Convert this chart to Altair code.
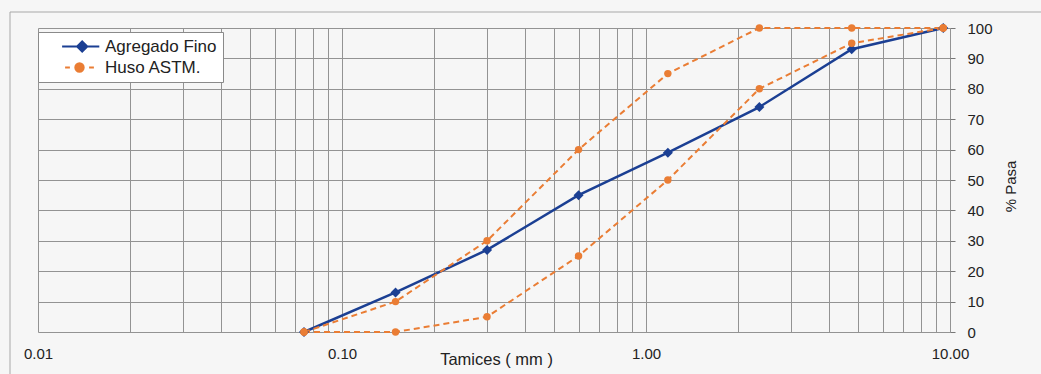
import altair as alt
import pandas as pd

# ---- data ----
tamices = [0.075, 0.15, 0.3, 0.6, 1.18, 2.36, 4.75, 9.5]
agregado_fino = [0, 13, 27, 45, 59, 74, 93, 100]
huso_inf = [0, 0, 5, 25, 50, 80, 95, 100]
huso_sup = [0, 10, 30, 60, 85, 100, 100, 100]

x_grid = [0.01, 0.02, 0.03, 0.04, 0.05, 0.06, 0.07, 0.08, 0.09,
          0.1, 0.2, 0.3, 0.4, 0.5, 0.6, 0.7, 0.8, 0.9,
          1, 2, 3, 4, 5, 6, 7, 8, 9, 10]
y_ticks = [0, 10, 20, 30, 40, 50, 60, 70, 80, 90, 100]

series_names = ["Agregado Fino", "Huso ASTM."]

rows = []
for s, p in zip(tamices, agregado_fino):
    rows.append({"tamiz": s, "pasa": p, "grupo": "Agregado Fino", "curva": "fino"})
for s, p in zip(tamices, huso_inf):
    rows.append({"tamiz": s, "pasa": p, "grupo": "Huso ASTM.", "curva": "inf"})
for s, p in zip(tamices, huso_sup):
    rows.append({"tamiz": s, "pasa": p, "grupo": "Huso ASTM.", "curva": "sup"})
df = pd.DataFrame(rows)

BLUE = "#1b3f93"
ORANGE = "#ea7d34"
FONT = "Liberation Sans"

x_enc = alt.X(
    "tamiz:Q",
    scale=alt.Scale(type="log", domain=[0.01, 10], nice=False),
    axis=alt.Axis(
        values=x_grid,
        labelExpr="abs(log(datum.value)/LN10 - round(log(datum.value)/LN10)) < 0.001 ? format(datum.value, '.2f') : ''",
        labelOverlap=False,
        labelFlush=False,
        ticks=False,
        labelPadding=14,
        title="Tamices ( mm )",
        titleFontSize=16.5,
        titleX=458,
        titleY=27,
        titleAlign="center",
        titleBaseline="middle",
    ),
)
y_enc = alt.Y(
    "pasa:Q",
    scale=alt.Scale(domain=[0, 100], nice=False),
    axis=alt.Axis(
        orient="right",
        values=y_ticks,
        tickSize=5,
        labelPadding=12,
        title="% Pasa",
        titleAngle=270,
        titleX=60,
        titleY=158,
        titleAlign="center",
        titleBaseline="middle",
    ),
)

legend_symbols = [
    "M1.6,0H7.8M4.95,-0.85L5.8,0L4.95,0.85L4.1,0Z",
    "M2.1,0H2.9M6.1,0H6.9M3.8,0A0.7,0.7 0 1,0 5.2,0A0.7,0.7 0 1,0 3.8,0Z",
]

leg = alt.Legend(
    orient="none", legendX=0, legendY=4, title=None,
    padding=6, fillColor="white", strokeColor="#8a8a8a",
    symbolSize=144, symbolStrokeWidth=2, symbolOpacity=1,
    labelOffset=44, labelFontSize=17, labelFont=FONT, labelColor="#222222",
    rowPadding=2,
)

base = alt.Chart(df)

carrier = base.mark_point(opacity=0, filled=True).encode(
    x=x_enc, y=y_enc,
    fill=alt.Fill("grupo:N", scale=alt.Scale(domain=series_names, range=[BLUE, ORANGE]), legend=leg),
    stroke=alt.Stroke("grupo:N", scale=alt.Scale(domain=series_names, range=[BLUE, ORANGE]), legend=leg),
    shape=alt.Shape("grupo:N", scale=alt.Scale(domain=series_names, range=legend_symbols), legend=leg),
)

blue_line = base.transform_filter(alt.datum.grupo == "Agregado Fino").mark_line(
    color=BLUE, strokeWidth=2.5
).encode(x=x_enc, y=y_enc)

orange_lines = base.transform_filter(alt.datum.grupo == "Huso ASTM.").mark_line(
    color=ORANGE, strokeWidth=2, strokeDash=[6, 4]
).encode(x=x_enc, y=y_enc, detail="curva:N")

blue_pts = base.transform_filter(alt.datum.grupo == "Agregado Fino").mark_point(
    filled=True, shape="diamond", size=100, color=BLUE, opacity=1
).encode(x=x_enc, y=y_enc)

orange_pts = base.transform_filter(alt.datum.grupo == "Huso ASTM.").mark_point(
    filled=True, shape="circle", size=55, color=ORANGE, opacity=1
).encode(x=x_enc, y=y_enc, detail="curva:N")

# outer chart-area frame (partly cropped in the reference)
frame_df = pd.DataFrame({"k": [0]})
frame_top = alt.Chart(frame_df).mark_rule(color="#a8a8a8", strokeWidth=1).encode(
    x=alt.value(-28), x2=alt.value(1003), y=alt.value(-16)
)
frame_left = alt.Chart(frame_df).mark_rule(color="#a8a8a8", strokeWidth=1).encode(
    x=alt.value(-28), y=alt.value(-16), y2=alt.value(346)
)

chart = alt.layer(
    carrier, frame_top, frame_left, blue_line, orange_lines, blue_pts, orange_pts
).properties(
    width=912, height=304,
    autosize=alt.AutoSizeParams(type="none"),
    padding={"left": 38, "top": 28, "right": 91, "bottom": 42},
    background="#f6f6f6",
).configure_view(stroke=None).configure_axis(
    gridColor="#939393", gridWidth=1, gridOpacity=1, domain=False,
    tickColor="#777777", labelFont=FONT, labelFontSize=15, labelColor="#222222",
    titleFont=FONT, titleFontSize=15, titleFontWeight="normal", titleColor="#222222",
)

chart.save("out.html", embed_options={"renderer": "svg", "actions": False})
